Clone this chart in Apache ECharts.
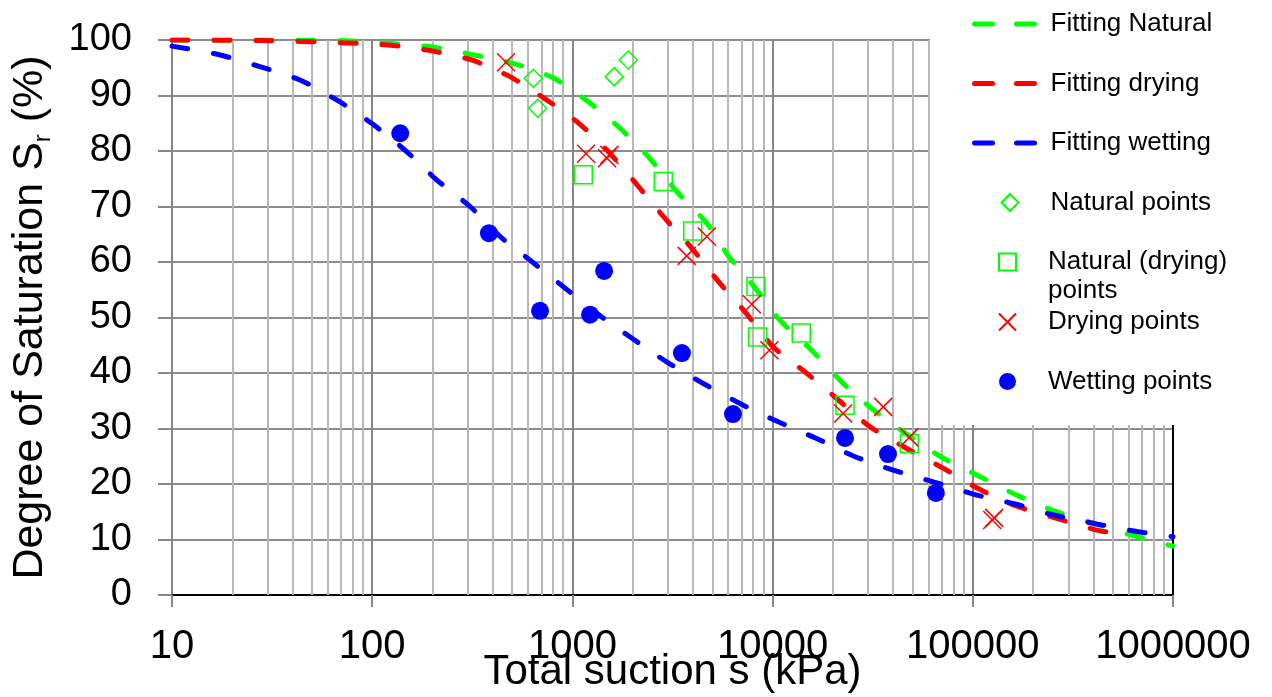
<!DOCTYPE html>
<html>
<head>
<meta charset="utf-8">
<script src="https://cdn.jsdelivr.net/npm/echarts@6/dist/echarts.min.js"></script>
<style>
html,body{margin:0;padding:0;background:#fff;}
#chart{width:1272px;height:697px;}
</style>
</head>
<body>
<div id="chart"></div>
<script>
// ---- Data (suction kPa, degree of saturation %) ----
const fitNatural = [[10,100],[30,100],[70,99.9],[100,99.6],[195,98.8],[314,97.4],[505,95.8],[800,93.2],[1197,88.9],[1730,84.1],[2417,78.8],[3321,72.7],[4688,67.0],[5957,61.3],[8075,55.6],[10890,49.5],[15670,44.1],[22130,38.4],[31260,33.6],[44980,29.4],[68550,25.0],[106500,21.5],[165600,18.0],[257500,15.1],[400000,12.9],[633500,10.7],[1000000,8.8]];
const fitDrying = [[10,100],[27.5,99.9],[86.9,99.4],[137.8,98.9],[194.5,98.1],[314,96.4],[488,93.4],[744,89.2],[1092,84.8],[1511,79.9],[2094,74.0],[2845,68.2],[3945,62.5],[5355,56.5],[7282,51.0],[10080,44.7],[14510,40.2],[20890,35.4],[30680,30.3],[46800,26.4],[70660,22.9],[108700,19.0],[168800,15.9],[262400,13.8],[415900,11.7],[500000,11.2]];
const fitWetting = [[10,98.9],[17.4,97.3],[27.5,95.2],[43.6,92.8],[66.5,89.2],[99.3,85.0],[148.6,79.9],[209.8,74.8],[308,70.0],[435,64.6],[626,60.1],[919,55.3],[1400,50.1],[1977,46.3],[2958,42.0],[4510,38.1],[6876,34.5],[10670,31.2],[16580,28.2],[25500,25.0],[40080,22.5],[63490,20.4],[102600,18.1],[162600,16.4],[247900,14.5],[415900,12.8],[671000,11.4],[1000000,10.5]];
const naturalPoints = [[638,93.1],[671,87.7],[1619,93.4],[1901,96.4]];
const naturalDryingPoints = [[1133,75.7],[2845,74.5],[3992,65.6],[8260,55.6],[8410,46.5],[13900,47.2],[23000,34.2],[48200,27.3]];
const dryingPoints = [[466,96.0],[1170,79.5],[1490,78.7],[1530,79.3],[3725,61.1],[4690,64.6],[7870,52.4],[9640,44.1],[22500,32.7],[35700,33.9],[48200,28.4],[125000,13.5],[128000,13.9]];
const wettingPoints = [[138,83.2],[383,65.2],[689,51.2],[1225,50.5],[1440,58.4],[3524,43.6],[6340,32.6],[23000,28.3],[37700,25.4],[65400,18.4]];

const xTickLabels = ['10','100','1000','10000','100000','1000000'];
const yTickLabels = ['0','10','20','30','40','50','60','70','80','90','100'];
const seriesNames = ['Fitting Natural','Fitting drying','Fitting wetting','Natural points','Natural (drying) points','Drying points','Wetting points'];

// minor log grid positions (2..9 x each decade)
const minorGrid = [];
for (let d = 10; d < 1000000; d *= 10) {
  for (let k = 2; k <= 9; k++) minorGrid.push(d * k);
}

const FONT = 'Arial, "Liberation Sans", sans-serif';
const GREEN = '#00ff00', RED = '#ff0000', BLUE = '#0000ff';
const DASH = [16, 26];
const SYM_DIAMOND = 'path://M5,0L10,5L5,10L0,5Z';
const SYM_SQUARE = 'path://M0,0L10,0L10,10L0,10Z';
const SYM_CROSS = 'path://M0,0L10,10M10,0L0,10';

const chart = echarts.init(document.getElementById('chart'), null, {renderer: 'canvas'});

function fitSeries(name, data, color) {
  return {
    name, type: 'line', data, symbol: 'none', smooth: 0.25, z: 2,
    lineStyle: {color, width: 5, type: DASH, cap: 'round'},
    itemStyle: {color},
    animation: false
  };
}
function ptSeries(name, data, symbol, size, style) {
  return {
    name, type: 'scatter', data, symbol, symbolSize: size, z: 3,
    itemStyle: Object.assign({opacity: 1}, style), animation: false
  };
}
const hideSym = {color: 'rgba(0,0,0,0)', borderWidth: 0, opacity: 0};

const legendBase = {
  orient: 'vertical',
  left: 972,
  align: 'left',
  padding: 0,
  itemWidth: 71,
  itemHeight: 17,
  itemGap: 29.5,
  z: 6,
  selectedMode: false,
  symbolKeepAspect: true,
  textStyle: {fontSize: 26, fontFamily: FONT, color: '#000', lineHeight: 30},
  lineStyle: {type: [18, 24], width: 5, cap: 'round'}
};

const option = {
  backgroundColor: '#fff',
  animation: false,
  grid: {left: 172, right: 99, top: 40, bottom: 102, outerBoundsMode: 'none'},
  xAxis: [{
    type: 'log', logBase: 10, min: 10, max: 1000000,
    name: 'Total suction s (kPa)', nameLocation: 'middle', nameGap: 56, nameMoveOverlap: false,
    nameTextStyle: {fontSize: 42, fontFamily: FONT, color: '#000'},
    axisLine: {show: true, lineStyle: {color: '#868686', width: 2}},
    axisTick: {show: true, length: 12, lineStyle: {color: '#868686', width: 2}},
    axisLabel: {
      fontSize: 40, fontFamily: FONT, color: '#000', margin: 32,
      formatter: v => { const i = Math.round(Math.log10(v)) - 1; return xTickLabels[i] !== undefined ? xTickLabels[i] : ''; }
    },
    splitLine: {show: true, lineStyle: {color: '#868686', width: 2}},
    minorTick: {show: false}, minorSplitLine: {show: false}
  }, {
    type: 'log', logBase: 10, min: 10, max: 1000000, position: 'top',
    axisLine: {show: true, lineStyle: {color: '#000', width: 2}},
    axisTick: {show: false}, axisLabel: {show: false}, splitLine: {show: false}
  }],
  yAxis: [{
    type: 'value', min: 0, max: 100, interval: 10,
    name: 'Degree of Saturation S{sub|r} (%)', nameLocation: 'middle', nameGap: 117, nameMoveOverlap: false,
    nameTextStyle: {
      fontSize: 43, fontFamily: FONT, color: '#000', lineHeight: 50,
      rich: {sub: {fontSize: 24, fontFamily: FONT, color: '#000', lineHeight: 14, verticalAlign: 'bottom'}}
    },
    axisLine: {show: true, lineStyle: {color: '#868686', width: 2}},
    axisTick: {show: true, length: 14, lineStyle: {color: '#868686', width: 2}},
    axisLabel: {
      fontSize: 38, fontFamily: FONT, color: '#000', margin: 40,
      formatter: v => yTickLabels[Math.round(v / 10)]
    },
    splitLine: {show: true, lineStyle: {color: '#8c8c8c', width: 2}}
  }, {
    type: 'value', min: 0, max: 100, interval: 10, position: 'right',
    axisLine: {show: true, lineStyle: {color: '#000', width: 2}},
    axisTick: {show: false}, axisLabel: {show: false}, splitLine: {show: false}
  }],
  legend: [
    Object.assign({}, legendBase, {
      top: 9,
      data: [
        {name: seriesNames[0], itemStyle: hideSym},
        {name: seriesNames[1], itemStyle: hideSym},
        {name: seriesNames[2], itemStyle: hideSym},
        {name: seriesNames[3]}
      ]
    }),
    Object.assign({}, legendBase, {
      left: 998, top: 218.5, data: [seriesNames[4]],
      textStyle: {fontSize: 26, fontFamily: FONT, color: '#000', lineHeight: 29},
      formatter: () => ' \nNatural (drying)\npoints'
    }),
    Object.assign({}, legendBase, {left: 998, top: 307, data: seriesNames.slice(5)})
  ],
  graphic: [{
    type: 'rect', left: 930, top: 0, z: 4, silent: true,
    shape: {width: 342, height: 425},
    style: {fill: '#fff'}
  }],
  series: [
    {
      name: 'minorGrid', type: 'line', data: [], z: 1, silent: true,
      markLine: {
        silent: true, symbol: 'none', z: 1, animation: false,
        label: {show: false},
        lineStyle: {color: '#b8b8b8', width: 2, type: 'solid'},
        emphasis: {disabled: true},
        data: minorGrid.map(v => ({xAxis: v}))
      }
    },
    fitSeries(seriesNames[0], fitNatural, GREEN),
    fitSeries(seriesNames[1], fitDrying, RED),
    fitSeries(seriesNames[2], fitWetting, BLUE),
    ptSeries(seriesNames[3], naturalPoints, SYM_DIAMOND, 18, {color: 'rgba(0,0,0,0)', borderColor: GREEN, borderWidth: 1.5}),
    ptSeries(seriesNames[4], naturalDryingPoints, SYM_SQUARE, 18, {color: 'rgba(0,0,0,0)', borderColor: GREEN, borderWidth: 1.5}),
    ptSeries(seriesNames[5], dryingPoints, SYM_CROSS, 18, {color: 'rgba(0,0,0,0)', borderColor: RED, borderWidth: 1.5}),
    ptSeries(seriesNames[6], wettingPoints, 'circle', 18, {color: BLUE})
  ]
};
chart.setOption(option);
</script>
</body>
</html>
